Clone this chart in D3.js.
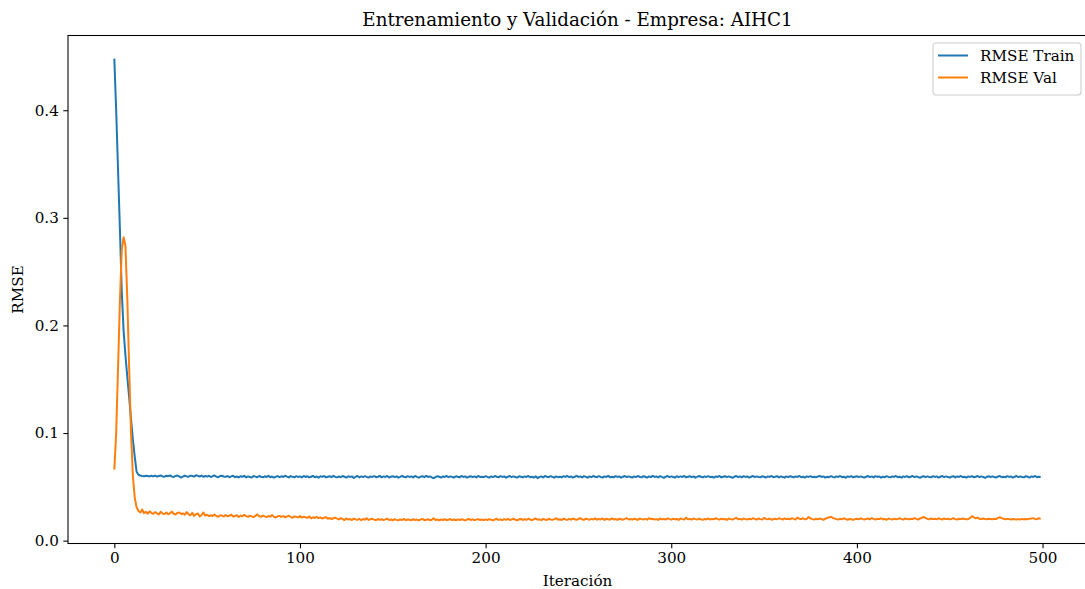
<!DOCTYPE html>
<html>
<head>
<meta charset="utf-8">
<script src="https://cdn.jsdelivr.net/npm/d3@7"></script>
<style>
  html, body { margin: 0; padding: 0; background: #fff; }
  svg { display: block; }
  text { font-family: "DejaVu Serif", serif; fill: #000; }
</style>
</head>
<body>
<svg id="chart" width="1085" height="589"></svg>
<script>
// Training / validation RMSE per iteration (0..499)
const titleText = "Entrenamiento y Validación - Empresa: AIHC1";
const xLabel = "Iteración";
const yLabel = "RMSE";
const seriesNames = ["RMSE Train", "RMSE Val"];
const xTicks = [0, 100, 200, 300, 400, 500];
const yTicks = [0.0, 0.1, 0.2, 0.3, 0.4];

const rmseTrain = [
  0.448,0.400,0.345,0.290,0.232,0.195,0.172,0.152,0.133,0.113,0.094,0.078,0.064,0.0612,0.0605,0.0601,0.0598,0.0603,0.0600,0.0597,
  0.0603,0.0597,0.0605,0.0595,0.0601,0.0606,0.0597,0.0594,0.0603,0.0599,0.0607,0.0595,0.0592,0.0601,0.0605,0.0597,0.0586,0.0596,0.0603,0.0597,
  0.0594,0.0604,0.0600,0.0595,0.0608,0.0602,0.0596,0.0605,0.0593,0.0601,0.0595,0.0603,0.0591,0.0600,0.0605,0.0595,0.0589,0.0601,0.0603,0.0594,
  0.0593,0.0601,0.0589,0.0597,0.0603,0.0590,0.0596,0.0587,0.0599,0.0594,0.0602,0.0588,0.0597,0.0592,0.0586,0.0600,0.0595,0.0589,0.0601,0.0594,
  0.0588,0.0598,0.0592,0.0602,0.0589,0.0596,0.0585,0.0594,0.0600,0.0590,0.0598,0.0592,0.0603,0.0595,0.0588,0.0600,0.0593,0.0589,0.0599,0.0592,
  0.0597,0.0587,0.0601,0.0592,0.0598,0.0588,0.0594,0.0602,0.0589,0.0596,0.0585,0.0599,0.0592,0.0601,0.0588,0.0594,0.0599,0.0590,0.0602,0.0592,
  0.0588,0.0596,0.0590,0.0601,0.0594,0.0586,0.0599,0.0592,0.0597,0.0583,0.0594,0.0601,0.0588,0.0597,0.0590,0.0599,0.0592,0.0586,0.0597,0.0592,
  0.0599,0.0590,0.0594,0.0602,0.0588,0.0597,0.0592,0.0601,0.0586,0.0594,0.0599,0.0590,0.0597,0.0585,0.0592,0.0601,0.0594,0.0588,0.0599,0.0592,
  0.0597,0.0588,0.0601,0.0592,0.0585,0.0594,0.0599,0.0590,0.0602,0.0592,0.0597,0.0588,0.0580,0.0590,0.0599,0.0594,0.0586,0.0597,0.0592,0.0601,
  0.0590,0.0597,0.0592,0.0586,0.0599,0.0594,0.0588,0.0601,0.0592,0.0597,0.0585,0.0594,0.0599,0.0590,0.0597,0.0588,0.0601,0.0592,0.0594,0.0590,
  0.0599,0.0592,0.0586,0.0597,0.0590,0.0601,0.0594,0.0588,0.0599,0.0592,0.0597,0.0585,0.0594,0.0601,0.0590,0.0597,0.0592,0.0586,0.0599,0.0594,
  0.0588,0.0597,0.0592,0.0601,0.0590,0.0594,0.0586,0.0599,0.0581,0.0592,0.0597,0.0588,0.0601,0.0594,0.0590,0.0599,0.0592,0.0585,0.0597,0.0590,
  0.0594,0.0588,0.0599,0.0592,0.0601,0.0590,0.0597,0.0586,0.0594,0.0602,0.0592,0.0597,0.0588,0.0599,0.0592,0.0585,0.0597,0.0590,0.0601,0.0594,
  0.0590,0.0599,0.0592,0.0586,0.0597,0.0592,0.0602,0.0590,0.0594,0.0588,0.0599,0.0592,0.0597,0.0585,0.0594,0.0601,0.0590,0.0597,0.0592,0.0586,
  0.0597,0.0590,0.0601,0.0592,0.0588,0.0599,0.0594,0.0586,0.0597,0.0590,0.0602,0.0592,0.0597,0.0588,0.0599,0.0592,0.0584,0.0594,0.0601,0.0590,
  0.0597,0.0592,0.0586,0.0599,0.0590,0.0597,0.0592,0.0601,0.0588,0.0594,0.0599,0.0590,0.0597,0.0585,0.0592,0.0601,0.0594,0.0588,0.0597,0.0592,
  0.0599,0.0590,0.0594,0.0586,0.0597,0.0592,0.0601,0.0588,0.0594,0.0599,0.0590,0.0597,0.0592,0.0584,0.0594,0.0601,0.0590,0.0597,0.0588,0.0599,
  0.0592,0.0597,0.0586,0.0594,0.0601,0.0590,0.0597,0.0592,0.0588,0.0599,0.0594,0.0586,0.0597,0.0592,0.0601,0.0590,0.0594,0.0599,0.0588,0.0597,
  0.0592,0.0585,0.0597,0.0590,0.0599,0.0594,0.0588,0.0597,0.0592,0.0601,0.0590,0.0594,0.0586,0.0597,0.0592,0.0599,0.0590,0.0594,0.0588,0.0597,
  0.0601,0.0592,0.0597,0.0586,0.0594,0.0590,0.0599,0.0592,0.0588,0.0597,0.0592,0.0601,0.0590,0.0594,0.0584,0.0597,0.0592,0.0599,0.0588,0.0594,
  0.0599,0.0590,0.0597,0.0592,0.0586,0.0594,0.0601,0.0590,0.0597,0.0588,0.0599,0.0592,0.0597,0.0585,0.0594,0.0590,0.0599,0.0592,0.0588,0.0597,
  0.0592,0.0601,0.0590,0.0594,0.0586,0.0597,0.0592,0.0599,0.0588,0.0594,0.0601,0.0590,0.0597,0.0592,0.0584,0.0594,0.0599,0.0590,0.0597,0.0592,
  0.0588,0.0599,0.0592,0.0597,0.0586,0.0594,0.0601,0.0590,0.0597,0.0592,0.0585,0.0594,0.0599,0.0588,0.0597,0.0592,0.0601,0.0590,0.0594,0.0586,
  0.0597,0.0592,0.0599,0.0588,0.0594,0.0601,0.0590,0.0597,0.0592,0.0583,0.0594,0.0599,0.0590,0.0597,0.0592,0.0586,0.0597,0.0601,0.0590,0.0594,
  0.0588,0.0599,0.0592,0.0597,0.0586,0.0594,0.0601,0.0590,0.0597,0.0592,0.0588,0.0599,0.0594,0.0586,0.0597,0.0592,0.0601,0.0590,0.0594,0.0592
];

const rmseVal = [
  0.066,0.100,0.160,0.222,0.270,0.282,0.274,0.225,0.160,0.100,0.060,0.040,0.031,0.0275,0.0262,0.0290,0.0255,0.0268,0.0250,0.0272,
  0.0258,0.0249,0.0265,0.0252,0.0244,0.0268,0.0251,0.0247,0.0262,0.0245,0.0255,0.0270,0.0250,0.0243,0.0258,0.0262,0.0248,0.0253,0.0241,0.0265,
  0.0245,0.0236,0.0258,0.0230,0.0246,0.0252,0.0225,0.0238,0.0262,0.0232,0.0241,0.0227,0.0236,0.0228,0.0243,0.0229,0.0221,0.0237,0.0232,0.0225,
  0.0238,0.0226,0.0231,0.0242,0.0224,0.0229,0.0236,0.0220,0.0233,0.0226,0.0240,0.0228,0.0222,0.0231,0.0225,0.0219,0.0230,0.0244,0.0226,0.0221,
  0.0233,0.0225,0.0218,0.0229,0.0223,0.0237,0.0221,0.0215,0.0226,0.0230,0.0220,0.0228,0.0217,0.0224,0.0232,0.0219,0.0213,0.0225,0.0221,0.0216,
  0.0228,0.0214,0.0222,0.0218,0.0212,0.0225,0.0208,0.0217,0.0211,0.0220,0.0209,0.0215,0.0206,0.0213,0.0219,0.0204,0.0210,0.0201,0.0208,0.0212,
  0.0205,0.0197,0.0210,0.0199,0.0192,0.0206,0.0196,0.0201,0.0191,0.0205,0.0197,0.0194,0.0203,0.0190,0.0201,0.0195,0.0208,0.0193,0.0199,0.0203,
  0.0195,0.0189,0.0201,0.0193,0.0199,0.0190,0.0197,0.0204,0.0192,0.0196,0.0189,0.0199,0.0193,0.0188,0.0197,0.0192,0.0201,0.0190,0.0196,0.0194,
  0.0189,0.0199,0.0192,0.0196,0.0188,0.0197,0.0202,0.0190,0.0194,0.0199,0.0189,0.0194,0.0208,0.0192,0.0197,0.0189,0.0196,0.0192,0.0199,0.0190,
  0.0194,0.0201,0.0190,0.0196,0.0189,0.0198,0.0192,0.0199,0.0194,0.0188,0.0196,0.0201,0.0192,0.0198,0.0190,0.0195,0.0200,0.0192,0.0196,0.0190,
  0.0198,0.0192,0.0200,0.0194,0.0189,0.0197,0.0203,0.0192,0.0198,0.0190,0.0200,0.0194,0.0202,0.0192,0.0196,0.0205,0.0194,0.0189,0.0198,0.0202,
  0.0192,0.0200,0.0194,0.0203,0.0196,0.0190,0.0200,0.0206,0.0194,0.0198,0.0190,0.0202,0.0196,0.0192,0.0203,0.0197,0.0193,0.0200,0.0207,0.0195,
  0.0199,0.0192,0.0204,0.0197,0.0193,0.0203,0.0195,0.0206,0.0199,0.0193,0.0201,0.0209,0.0197,0.0193,0.0204,0.0199,0.0195,0.0202,0.0197,0.0207,
  0.0195,0.0201,0.0197,0.0206,0.0193,0.0203,0.0199,0.0195,0.0207,0.0197,0.0201,0.0193,0.0204,0.0199,0.0195,0.0202,0.0210,0.0197,0.0201,0.0195,
  0.0204,0.0199,0.0193,0.0206,0.0200,0.0196,0.0202,0.0195,0.0209,0.0199,0.0204,0.0196,0.0200,0.0193,0.0206,0.0198,0.0202,0.0196,0.0207,0.0200,
  0.0195,0.0204,0.0198,0.0202,0.0193,0.0206,0.0200,0.0196,0.0212,0.0198,0.0202,0.0195,0.0206,0.0200,0.0196,0.0204,0.0198,0.0193,0.0202,0.0198,
  0.0206,0.0196,0.0202,0.0198,0.0209,0.0200,0.0195,0.0204,0.0198,0.0202,0.0193,0.0206,0.0200,0.0196,0.0204,0.0212,0.0198,0.0202,0.0195,0.0206,
  0.0200,0.0196,0.0204,0.0198,0.0208,0.0202,0.0195,0.0206,0.0200,0.0196,0.0211,0.0202,0.0198,0.0206,0.0194,0.0200,0.0204,0.0198,0.0208,0.0202,
  0.0196,0.0206,0.0200,0.0204,0.0198,0.0209,0.0202,0.0196,0.0214,0.0204,0.0200,0.0208,0.0198,0.0202,0.0220,0.0206,0.0200,0.0196,0.0204,0.0198,
  0.0206,0.0200,0.0194,0.0204,0.0210,0.0216,0.0222,0.0211,0.0205,0.0200,0.0196,0.0204,0.0198,0.0208,0.0200,0.0194,0.0202,0.0198,0.0193,0.0200,
  0.0204,0.0198,0.0208,0.0200,0.0196,0.0202,0.0206,0.0198,0.0210,0.0202,0.0196,0.0204,0.0200,0.0208,0.0198,0.0202,0.0194,0.0206,0.0200,0.0196,
  0.0204,0.0198,0.0202,0.0208,0.0200,0.0196,0.0206,0.0202,0.0198,0.0204,0.0200,0.0210,0.0202,0.0196,0.0206,0.0213,0.0220,0.0209,0.0202,0.0198,
  0.0206,0.0200,0.0204,0.0198,0.0208,0.0202,0.0196,0.0206,0.0200,0.0204,0.0198,0.0202,0.0208,0.0200,0.0196,0.0204,0.0200,0.0206,0.0202,0.0198,
  0.0202,0.0210,0.0228,0.0217,0.0207,0.0214,0.0203,0.0200,0.0206,0.0202,0.0199,0.0204,0.0201,0.0198,0.0203,0.0200,0.0211,0.0218,0.0208,0.0203,
  0.0199,0.0202,0.0200,0.0197,0.0201,0.0198,0.0196,0.0200,0.0197,0.0202,0.0199,0.0201,0.0198,0.0204,0.0205,0.0209,0.0202,0.0199,0.0208,0.0204
];

const colors = ["#1f77b4", "#ff7f0e"];
const series = [rmseTrain, rmseVal];

const svg = d3.select("#chart");
const plot = { left: 68, top: 35.5, right: 1087, bottom: 543.5 };

// Domains with a 5% margin around the data, as in a default plot
const n = rmseTrain.length;
const xPad = (n - 1) * 0.05;
const allVals = rmseTrain.concat(rmseVal);
const yMin = d3.min(allVals), yMax = d3.max(allVals);
const yPad = (yMax - yMin) * 0.05;

const x = d3.scaleLinear().domain([-xPad, n - 1 + xPad]).range([plot.left, plot.right]);
const y = d3.scaleLinear().domain([yMin - yPad, yMax + yPad]).range([plot.bottom, plot.top]);

// Lines
const line = d3.line().x((d, i) => x(i)).y(d => y(d));
svg.append("clipPath").attr("id", "plotclip").append("rect")
  .attr("x", plot.left).attr("y", plot.top)
  .attr("width", plot.right - plot.left).attr("height", plot.bottom - plot.top);

series.forEach((s, k) => {
  svg.append("path")
    .datum(s)
    .attr("clip-path", "url(#plotclip)")
    .attr("fill", "none")
    .attr("stroke", colors[k])
    .attr("stroke-width", 2)
    .attr("stroke-linejoin", "round")
    .attr("stroke-linecap", "butt")
    .attr("d", line);
});

// Axes
const tickFont = "15.2px";
const xAxis = d3.axisBottom(x).tickValues(xTicks).tickFormat(d3.format("d")).tickSize(4.7).tickPadding(4.5);
const gx = svg.append("g").attr("transform", `translate(0,${plot.bottom})`).call(xAxis);
gx.select(".domain").remove();
gx.selectAll(".tick line").attr("stroke", "#000").attr("stroke-width", 1.07);
gx.selectAll(".tick text").attr("font-family", "DejaVu Serif").attr("font-size", tickFont).attr("fill", "#000");

const yAxis = d3.axisLeft(y).tickValues(yTicks).tickFormat(d3.format(".1f")).tickSize(4.7).tickPadding(4.5);
const gy = svg.append("g").attr("transform", `translate(${plot.left},0)`).call(yAxis);
gy.select(".domain").remove();
gy.selectAll(".tick line").attr("stroke", "#000").attr("stroke-width", 1.07);
gy.selectAll(".tick text").attr("font-family", "DejaVu Serif").attr("font-size", tickFont).attr("fill", "#000");

// Frame
svg.append("rect")
  .attr("x", plot.left).attr("y", plot.top)
  .attr("width", plot.right - plot.left).attr("height", plot.bottom - plot.top)
  .attr("fill", "none").attr("stroke", "#000").attr("stroke-width", 1.07);

// Title and axis labels
svg.append("text")
  .attr("x", (plot.left + plot.right) / 2).attr("y", 26)
  .attr("text-anchor", "middle").attr("font-size", "18.3px")
  .text(titleText);

svg.append("text")
  .attr("x", (plot.left + plot.right) / 2).attr("y", 586)
  .attr("text-anchor", "middle").attr("font-size", "15.2px")
  .text(xLabel);

svg.append("text")
  .attr("transform", `translate(23,${(plot.top + plot.bottom) / 2}) rotate(-90)`)
  .attr("text-anchor", "middle").attr("font-size", "15.2px")
  .text(yLabel);

// Legend
const lg = svg.append("g").attr("transform", "translate(933,43)");
lg.append("rect")
  .attr("x", 0).attr("y", 0).attr("width", 148).attr("height", 52)
  .attr("rx", 3).attr("ry", 3)
  .attr("fill", "#fff").attr("fill-opacity", 0.8)
  .attr("stroke", "#cccccc").attr("stroke-width", 1.07);
seriesNames.forEach((name, k) => {
  const yy = 12.5 + k * 22;
  lg.append("line")
    .attr("x1", 5).attr("x2", 35).attr("y1", yy).attr("y2", yy)
    .attr("stroke", colors[k]).attr("stroke-width", 2);
  lg.append("text")
    .attr("x", 47).attr("y", yy + 5.2)
    .attr("font-size", "15.2px")
    .text(name);
});
</script>
</body>
</html>
